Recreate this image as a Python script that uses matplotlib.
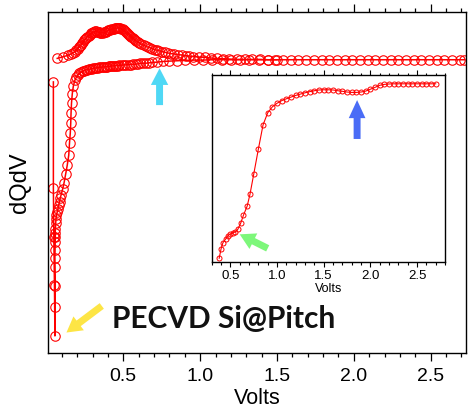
import matplotlib
matplotlib.use("Agg")
import matplotlib.pyplot as plt
import matplotlib.patches as patches
from matplotlib.ticker import MultipleLocator

# main plot: dQ/dV (arb. units) vs Volts
up_v = [0.07, 0.11, 0.14, 0.16, 0.175, 0.185, 0.195, 0.203, 0.21, 0.217, 0.224, 0.232,
        0.239, 0.246, 0.253, 0.26, 0.267, 0.275, 0.282, 0.29, 0.297, 0.305, 0.312, 0.318,
        0.325, 0.332, 0.339, 0.345, 0.351, 0.358, 0.365, 0.372, 0.379, 0.386, 0.394, 0.401,
        0.408, 0.415, 0.422, 0.43, 0.437, 0.444, 0.451, 0.458, 0.465, 0.472, 0.481, 0.488,
        0.495, 0.502, 0.509, 0.516, 0.524, 0.531, 0.538, 0.545, 0.552, 0.56, 0.567, 0.575,
        0.585, 0.595, 0.605, 0.617, 0.632, 0.645, 0.66, 0.675, 0.69, 0.705, 0.719, 0.735,
        0.752, 0.77, 0.79, 0.81, 0.83, 0.855, 0.88, 0.905, 0.93, 0.956, 0.99, 1.03, 1.07,
        1.108, 1.15, 1.19, 1.238, 1.29, 1.34, 1.39, 1.44, 1.49, 1.54, 1.59, 1.64, 1.69,
        1.74, 1.79, 1.84, 1.89, 1.94, 1.99, 2.04, 2.09, 2.14, 2.19, 2.24, 2.29, 2.34, 2.39,
        2.44, 2.49, 2.54, 2.59, 2.64, 2.69, 2.72]
up_y = [86.4, 86.9, 87.3, 87.7, 88.1, 88.4, 88.8, 89.2, 89.6, 90.0, 90.4, 90.8,
        91.3, 91.7, 92.1, 92.5, 92.8, 93.1, 93.4, 93.7, 93.9, 94.1, 94.2, 94.3,
        94.3, 94.2, 94.1, 94.0, 93.9, 93.9, 93.9, 94.0, 94.1, 94.2, 94.4, 94.6,
        94.7, 94.8, 94.9, 95.0, 95.1, 95.2, 95.3, 95.3, 95.3, 95.3, 95.2, 95.1,
        94.9, 94.7, 94.5, 94.2, 93.9, 93.6, 93.3, 93.0, 92.7, 92.4, 92.1, 91.8,
        91.5, 91.2, 90.9, 90.6, 90.3, 90.0, 89.7, 89.5, 89.2, 89.0, 88.8, 88.6,
        88.4, 88.2, 88.0, 87.8, 87.7, 87.5, 87.4, 87.2, 87.1, 86.9, 86.8, 86.7, 86.5,
        86.4, 86.3, 86.2, 86.1, 86.1, 86.1, 86.1, 86.0, 86.0, 86.0, 86.0, 86.0, 86.0,
        86.0, 86.0, 86.0, 86.0, 86.0, 86.0, 86.0, 86.0, 86.0, 86.0, 86.0, 86.0, 86.0, 86.0,
        86.0, 86.0, 86.0, 86.0, 86.0, 86.0, 86.0]

low_v = [0.045, 0.045, 0.048, 0.052, 0.055, 0.056, 0.057, 0.056, 0.055, 0.056, 0.057,
         0.058, 0.057, 0.058, 0.06, 0.062, 0.065, 0.07, 0.075, 0.08, 0.085, 0.09, 0.095,
         0.105, 0.115, 0.125, 0.135, 0.145, 0.15, 0.155, 0.158, 0.16, 0.163, 0.168, 0.175,
         0.185, 0.195, 0.205, 0.215, 0.225, 0.235, 0.245, 0.255, 0.265, 0.275, 0.285,
         0.295, 0.305, 0.315, 0.325, 0.335, 0.345, 0.355, 0.365, 0.375, 0.385, 0.395,
         0.405, 0.415, 0.425, 0.435, 0.445, 0.455, 0.465, 0.475, 0.49, 0.505, 0.52, 0.535,
         0.55, 0.565, 0.58, 0.595, 0.61, 0.63, 0.65, 0.67, 0.69, 0.72, 0.76, 0.80,
         0.85, 0.90, 0.96, 1.02, 1.08, 1.14, 1.20, 1.26, 1.32, 1.38, 1.44, 1.50]
low_y = [79.5, 48.4, 34.0, 20.0, 5.0, 13.5, 19.6, 25.2, 28.0, 30.2, 32.5,
         34.0, 35.2, 36.5, 38.0, 39.3, 40.5, 41.3, 42.3, 43.4, 44.4, 45.5, 46.3,
         48.0, 50.0, 52.5, 55.0, 58.0, 61.6, 64.5, 67.4, 70.4, 73.3, 76.0, 78.3,
         80.0, 80.9, 81.6, 82.0, 82.3, 82.6, 82.8, 83.0, 83.1, 83.2, 83.3,
         83.4, 83.5, 83.6, 83.6, 83.7, 83.8, 83.8, 83.9, 83.9, 84.0, 84.0,
         84.1, 84.1, 84.2, 84.2, 84.3, 84.3, 84.3, 84.4, 84.4, 84.5, 84.5, 84.6,
         84.6, 84.7, 84.7, 84.8, 84.9, 85.0, 85.0, 85.1, 85.2, 85.3, 85.5, 85.6,
         85.7, 85.8, 85.9, 85.9, 86.0, 86.0, 86.0, 86.0, 86.0, 86.0, 86.0, 86.0]

# inset: zoom on the charge curve
ins_v = [0.38, 0.40, 0.42, 0.45, 0.47, 0.50, 0.53, 0.55, 0.58, 0.61, 0.64, 0.68, 0.71,
         0.75, 0.80, 0.85, 0.90, 0.95, 1.00, 1.05, 1.10, 1.15, 1.20, 1.25, 1.30, 1.35,
         1.40, 1.45, 1.50, 1.55, 1.60, 1.65, 1.70, 1.75, 1.80, 1.85, 1.90, 1.95, 2.00,
         2.05, 2.10, 2.15, 2.20, 2.25, 2.30, 2.35, 2.40, 2.45, 2.50, 2.55, 2.60, 2.65, 2.70]
ins_y = [2.0, 7.0, 10.3, 12.3, 13.9, 15.0, 15.7, 16.0, 17.5, 20.7, 25.0, 29.9, 36.2,
         46.9, 60.4, 73.3, 79.8, 83.0, 84.9, 86.3, 87.3, 88.2, 89.1, 89.8, 90.5, 91.1,
         91.6, 92.0, 92.1, 92.1, 92.0, 91.6, 91.3, 90.9, 90.7, 90.7, 90.9, 91.4, 92.4,
         93.4, 94.5, 95.0, 95.2, 95.3, 95.3, 95.3, 95.3, 95.3, 95.3, 95.3, 95.3, 95.3, 95.3]

tick_vals = [0.5, 1.0, 1.5, 2.0, 2.5]
tick_labels = ["0.5", "1.0", "1.5", "2.0", "2.5"]

plt.rcParams['font.family'] = ['Liberation Sans', 'DejaVu Sans']

fig = plt.figure(figsize=(4.71, 4.17), dpi=100)
ax = fig.add_axes([0.1019, 0.1535, 0.8875, 0.8177])

ax.plot(low_v, low_y, color='red', lw=1.1, marker='o', ms=6.8, mfc='none', mew=0.8)
ax.plot(up_v, up_y, color='red', lw=1.1, marker='o', ms=6.8, mfc='none', mew=0.8)

ax.set_xlim(0.01, 2.73)
ax.set_ylim(0, 100)
ax.set_xticks(tick_vals)
ax.set_xticklabels(tick_labels)
ax.xaxis.set_minor_locator(MultipleLocator(0.1))
ax.set_yticks([])
ax.tick_params(axis='x', which='both', direction='out', top=True, bottom=True,
               labelsize=14, width=0.9)
ax.tick_params(axis='x', which='major', length=6, pad=5)
ax.tick_params(axis='x', which='minor', length=3)
for s in ax.spines.values():
    s.set_linewidth(1.0)
ax.set_xlabel("Volts", fontsize=15.5, labelpad=2)
ax.set_ylabel("dQdV", fontsize=17, labelpad=12)

# cyan arrow (main)
ax.add_patch(patches.FancyArrowPatch(
    (0.736, 72.7), (0.736, 83.5), arrowstyle='simple,head_length=12,head_width=12.5,tail_width=5',
    color='#4fd8f5', lw=0, shrinkA=0, shrinkB=0, mutation_scale=1, zorder=5))
# yellow arrow (main)
ax.add_patch(patches.FancyArrowPatch(
    (0.36, 13.8), (0.13, 6.0), arrowstyle='simple,head_length=11,head_width=12.5,tail_width=5',
    color='#fde545', lw=0, shrinkA=0, shrinkB=0, mutation_scale=1, zorder=5))

ax.text(0.425, 7.2, "PECVD Si@Pitch", fontsize=21.5, fontweight='bold', family='Lato',
        color='#111111', va='baseline', ha='left')

# inset
axi = fig.add_axes([0.4495, 0.3717, 0.4953, 0.4484])
axi.plot(ins_v, ins_y, color='red', lw=0.8, marker='o', ms=3.6, mfc='none', mew=0.7)
axi.set_xlim(0.30, 2.80)
axi.set_ylim(0, 100)
axi.set_xticks(tick_vals)
axi.set_xticklabels(tick_labels)
axi.xaxis.set_minor_locator(MultipleLocator(0.1))
axi.set_yticks([])
axi.tick_params(axis='x', which='both', direction='out', top=True, bottom=True,
                labelsize=9.5, width=0.8, pad=2)
axi.tick_params(axis='x', which='major', length=3.5)
axi.tick_params(axis='x', which='minor', length=1.8)
for s in axi.spines.values():
    s.set_linewidth(1.0)
axi.set_xlabel("Volts", fontsize=9, labelpad=1)

# blue arrow (inset)
axi.add_patch(patches.FancyArrowPatch(
    (1.858, 65.8), (1.858, 86.6), arrowstyle='simple,head_length=13,head_width=12,tail_width=5',
    color='#4a6cf6', lw=0, shrinkA=0, shrinkB=0, mutation_scale=1, zorder=5))
# green arrow (inset)
axi.add_patch(patches.FancyArrowPatch(
    (0.90, 7.3), (0.60, 14.8), arrowstyle='simple,head_length=11,head_width=12.5,tail_width=5',
    color='#7df77a', lw=0, shrinkA=0, shrinkB=0, mutation_scale=1, zorder=5))

fig.savefig("out.png", dpi=100)
